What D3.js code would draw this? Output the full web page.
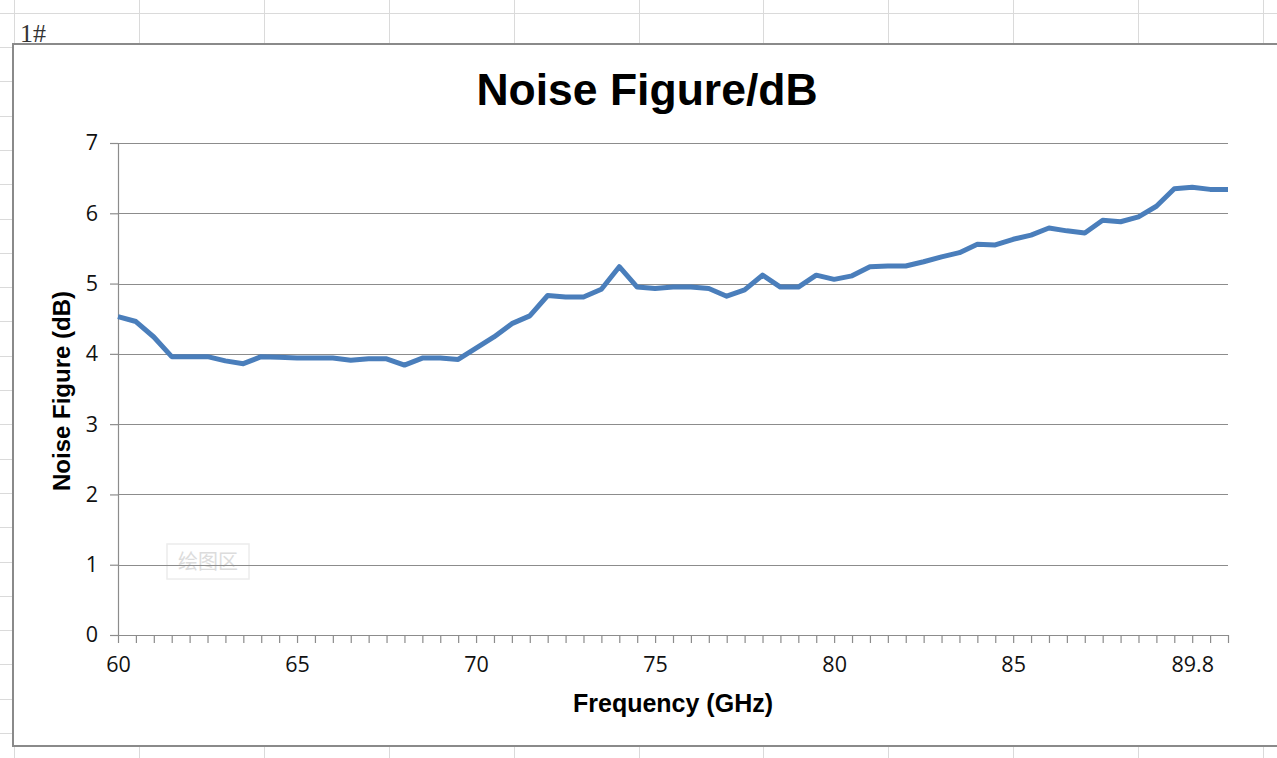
<!DOCTYPE html>
<html>
<head>
<meta charset="utf-8">
<script src="https://cdn.jsdelivr.net/npm/d3@7/dist/d3.min.js"></script>
<style>
  html, body { margin: 0; padding: 0; background: #fff; }
  svg { display: block; }
</style>
</head>
<body>
<svg id="chart" width="1277" height="758"></svg>
<script>
// ---- data ----
const categories = [
  "60","60.5","61","61.5","62","62.5","63","63.5","64","64.5",
  "65","65.5","66","66.5","67","67.5","68","68.5","69","69.5",
  "70","70.5","71","71.5","72","72.5","73","73.5","74","74.5",
  "75","75.5","76","76.5","77","77.5","78","78.5","79","79.5",
  "80","80.5","81","81.5","82","82.5","83","83.5","84","84.5",
  "85","85.5","86","86.5","87","87.5","88","88.5","89","89.5",
  "89.8","89.9","90"
];
const noiseFigure = [
  4.53,4.46,4.24,3.96,3.96,3.96,3.90,3.86,3.96,3.95,
  3.94,3.94,3.94,3.91,3.93,3.93,3.84,3.94,3.94,3.92,
  4.08,4.24,4.43,4.54,4.83,4.81,4.81,4.92,5.24,4.95,
  4.93,4.95,4.95,4.93,4.82,4.91,5.12,4.95,4.95,5.12,
  5.06,5.11,5.24,5.25,5.25,5.31,5.38,5.44,5.56,5.55,
  5.63,5.69,5.79,5.75,5.72,5.90,5.88,5.95,6.10,6.35,
  6.37,6.34,6.34
];
const xTickLabels = ["60","65","70","75","80","85","89.8"];
const yTicks = [0,1,2,3,4,5,6,7];
const title = "Noise Figure/dB";
const xTitle = "Frequency (GHz)";
const yTitle = "Noise Figure (dB)";
const sheetLabel = "1#";
const watermark = "绘图区";

// ---- layout ----
const W = 1277, H = 758;
const plot = { left: 118, right: 1228, top: 143, bottom: 635 };
const svg = d3.select("#chart");

// spreadsheet background grid
const bg = svg.append("g").attr("stroke", "#dadada").attr("stroke-width", 1);
for (let x = 14; x < W; x += 124.9) {
  bg.append("line").attr("x1", Math.round(x) + 0.5).attr("x2", Math.round(x) + 0.5)
    .attr("y1", 0).attr("y2", H);
}
for (let y = 12.7; y < H; y += 34.3) {
  bg.append("line").attr("y1", Math.round(y) + 0.5).attr("y2", Math.round(y) + 0.5)
    .attr("x1", 0).attr("x2", W);
}

svg.append("text").attr("x", 20).attr("y", 42)
  .attr("font-family", "'Liberation Serif', serif").attr("font-size", 26)
  .attr("fill", "#333").text(sheetLabel);

// chart frame
svg.append("rect").attr("x", 13).attr("y", 44).attr("width", 1320).attr("height", 702)
  .attr("fill", "#fff").attr("stroke", "#8a8a8a").attr("stroke-width", 2);

// scales
const x = d3.scalePoint().domain(categories).range([plot.left, plot.right]);
const y = d3.scaleLinear().domain([0, 7]).range([plot.bottom, plot.top]);

// watermark
const wm = svg.append("g");
wm.append("rect").attr("x", 167).attr("y", 544).attr("width", 82).attr("height", 35)
  .attr("fill", "none").attr("stroke", "#ececec").attr("stroke-width", 1.5);
wm.append("text").attr("x", 208).attr("y", 569).attr("text-anchor", "middle")
  .attr("font-family", "'Noto Sans CJK SC', sans-serif").attr("font-size", 20)
  .attr("fill", "#dcdcdc").text(watermark);

// gridlines
svg.append("g").selectAll("line").data(yTicks.filter(d => d > 0)).join("line")
  .attr("x1", plot.left).attr("x2", plot.right)
  .attr("y1", d => Math.round(y(d)) + 0.5).attr("y2", d => Math.round(y(d)) + 0.5)
  .attr("stroke", "#8c8c8c").attr("stroke-width", 1.2);

// y axis
const yAxis = svg.append("g").attr("transform", `translate(${plot.left},0)`)
  .call(d3.axisLeft(y).tickValues(yTicks).tickSize(8).tickPadding(12).tickFormat(d3.format("d")));
yAxis.select(".domain").attr("stroke", "#8c8c8c").attr("stroke-width", 1.2);
yAxis.selectAll(".tick line").attr("stroke", "#8c8c8c").attr("stroke-width", 1.2);
yAxis.selectAll("text").attr("font-family", "'Open Sans', sans-serif").attr("font-size", 21.5)
  .attr("fill", "#111");

// x axis
const xAxis = svg.append("g").attr("transform", `translate(0,${plot.bottom})`)
  .call(d3.axisBottom(x).tickValues(categories).tickSize(8).tickSizeOuter(0).tickPadding(14)
    .tickFormat((d, i) => (i % 10 === 0 && xTickLabels.includes(d)) ? d : ""));
xAxis.select(".domain").attr("stroke", "#8c8c8c").attr("stroke-width", 1.2);
xAxis.selectAll(".tick line").attr("stroke", "#8c8c8c").attr("stroke-width", 1.2);
xAxis.selectAll("text").attr("font-family", "'Open Sans', sans-serif").attr("font-size", 21.5)
  .attr("fill", "#111");

// line
const line = d3.line().x((d, i) => x(categories[i])).y(d => y(d));
svg.append("path").datum(noiseFigure)
  .attr("d", line).attr("fill", "none")
  .attr("stroke", "#4a7ebb").attr("stroke-width", 5)
  .attr("stroke-linejoin", "round").attr("stroke-linecap", "butt");

// titles
svg.append("text").attr("x", 647).attr("y", 105).attr("text-anchor", "middle")
  .attr("font-family", "'Liberation Sans', Arial, sans-serif").attr("font-weight", "bold")
  .attr("font-size", 44.5).attr("fill", "#000").text(title);

svg.append("text").attr("x", 673).attr("y", 712).attr("text-anchor", "middle")
  .attr("font-family", "'Liberation Sans', Arial, sans-serif").attr("font-weight", "bold")
  .attr("font-size", 25).attr("fill", "#000").text(xTitle);

svg.append("text").attr("transform", "translate(70,391) rotate(-90)").attr("text-anchor", "middle")
  .attr("font-family", "'Liberation Sans', Arial, sans-serif").attr("font-weight", "bold")
  .attr("font-size", 24).attr("fill", "#000").text(yTitle);
</script>
</body>
</html>
